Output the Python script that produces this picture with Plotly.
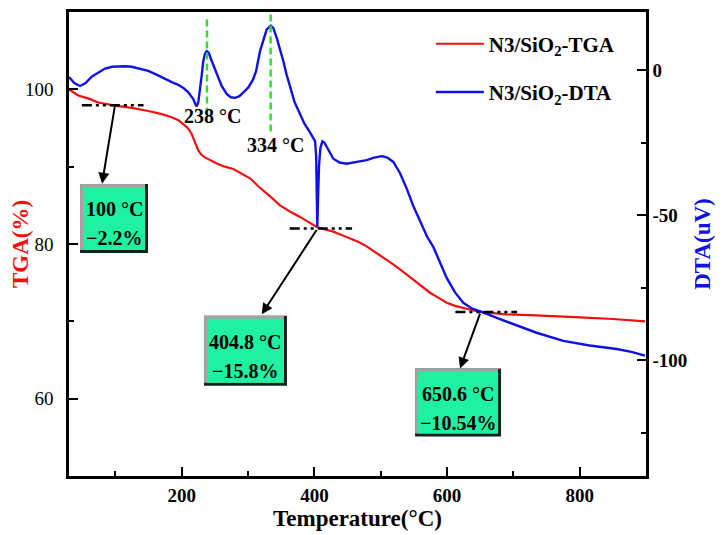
import plotly.graph_objects as go

# ---------------- data ----------------
tga_temp = [30, 44, 60, 74.2, 99.4, 125, 149.6, 170, 184.9, 195, 204.9, 210, 215, 220, 225,
            230, 235, 252.7, 265, 277.7, 295, 303, 315, 328, 338, 348.2, 363, 378.3, 391,
            403.5, 415, 428.5, 440, 453.7, 466, 478.8, 491, 504, 520, 540, 557, 574.3, 588,
            599.5, 612, 624.5, 640, 652.3, 690, 725, 760, 800.5, 850, 898.5]
tga_val = [100.0, 99.2, 98.8, 98.3, 97.9, 97.6, 97.2, 96.8, 96.4, 96.0, 95.3, 94.9, 94.2, 93.2, 92.1,
           91.5, 91.2, 90.4, 90.0, 89.7, 88.9, 88.5, 87.5, 86.6, 85.8, 85.0, 84.2, 83.5, 82.8,
           82.2, 81.9, 81.6, 81.2, 80.7, 80.3, 79.7, 79.0, 78.2, 77.3, 76.0, 74.9, 73.7, 73.0,
           72.4, 72.0, 71.7, 71.4, 71.2, 70.9, 70.8, 70.7, 70.5, 70.3, 70.0]

dta_temp = [30, 38, 46.6, 55, 64.2, 75, 84.3, 95, 103.9, 115, 124.5, 137, 149.6, 162, 174.8, 185,
            194.8, 203, 209.9, 214, 217.4, 220.5, 222.6, 225, 227.5, 230, 232.5, 235, 237.6,
            240.5, 245.2, 252, 260.2, 268, 274, 280.3, 287, 294, 300.4, 307, 312, 318, 323,
            328, 334.1, 338, 343.2, 348, 353.1, 358, 363.2, 370, 378.3, 385, 393.4, 398.4,
            401, 402.7, 403.6, 404.4, 405.5, 407, 409, 412, 415, 420, 428.5, 438, 448.7,
            463.8, 478.9, 490, 501.5, 510, 519, 529, 539.2, 549, 559.3, 570, 579.3, 590,
            599.5, 612, 624.5, 638, 652.3, 675, 699.9, 735, 775.3, 815, 855.8, 878, 898.5]
dta_val = [-2.4, -4.5, -5.5, -4.5, -2.3, -0.7, 0.5, 1.1, 1.3, 1.3, 1.1, 0.5, -0.3, -1.6, -3.2, -4.2,
           -5.1, -6.3, -7.7, -8.8, -10.0, -11.8, -12.5, -11.0, -7.2, -2.0, 3.1, 5.6, 6.5,
           6.0, 3.1, -1.0, -5.5, -8.3, -9.4, -9.6, -9.0, -7.5, -6.0, -3.5, -0.5, 6.5, 10.5,
           13.9, 15.3, 14.5, 11.1, 7.5, 3.1, -1.5, -6.0, -11.0, -15.2, -18.5, -21.5, -23.2,
           -24.5, -30.0, -45.0, -54.0, -44.0, -33.0, -27.0, -24.6, -25.0, -27.2, -30.6, -31.9, -32.3,
           -31.7, -31.1, -30.2, -29.7, -30.2, -31.7, -35.5, -40.9, -46.8, -52.3, -57.5, -61.0, -66.5,
           -71.7, -76.7, -80.3, -82.3, -83.4, -85.5, -87.7, -90.6, -93.4, -95.0, -96.2, -97.2, -98.5]

x_ticks = [200, 400, 600, 800]
tga_ticks = [60, 80, 100]
dta_ticks = [0, -50, -100]
dta_ticktext = ["0", "-50", "-100"]

onset_temp = [99.4, 404.8, 650.6]
onset_tga = [97.95, 82.0, 71.2]
onset_labels = [["100 °C", "−2.2%"], ["404.8 °C", "−15.8%"], ["650.6 °C", "−10.54%"]]

peak_temp = [238, 334]
peak_labels = ["238 °C", "334 °C"]

FONT = "Liberation Serif"
RED = "#f01010"
BLUE = "#1010e8"

fig = go.Figure()
fig.add_trace(go.Scatter(x=tga_temp, y=tga_val, mode="lines", name="N3/SiO<sub>2</sub>-TGA",
                         line=dict(color=RED, width=2.2), legendgroup="a"))
fig.add_trace(go.Scatter(x=dta_temp, y=dta_val, mode="lines", name="N3/SiO<sub>2</sub>-DTA",
                         line=dict(color=BLUE, width=2.4), yaxis="y2", legendgroup="b"))

shapes = []
annotations = []

# dash-dot onset lines, arrows and labelled boxes
line_span = [(-50, 43), (-42, 52), (-38, 55)]
arrow_heads = [(79.8, 87.8), (320.6, 70.9), (619.6, 63.9)]
box_centers = [(97.9, 83.3), (296.1, 66.2), (616.6, 59.5)]
box_sizes = [(68, 69), (83, 70), (86, 68)]
for i in range(3):
    t0, g0 = onset_temp[i], onset_tga[i]
    shapes.append(dict(type="line", xref="x", yref="y", x0=t0 + line_span[i][0], x1=t0 + line_span[i][1],
                       y0=g0, y1=g0, line=dict(color="black", width=2.5, dash="10px,4px,3px,4px,3px,4px")))
    hx, hy = arrow_heads[i]
    annotations.append(dict(x=hx, y=hy, xref="x", yref="y", ax=t0, ay=g0, axref="x", ayref="y",
                            text="", showarrow=True, arrowhead=2, arrowsize=1.1, arrowwidth=2,
                            arrowcolor="black", standoff=0, startstandoff=0))
    cx, cy = box_centers[i]
    w, h = box_sizes[i]
    common = dict(xref="x", yref="y", xsizemode="pixel", ysizemode="pixel", xanchor=cx, yanchor=cy,
                  layer="above", line=dict(width=0))
    shapes.append(dict(type="rect", x0=-w / 2, x1=w / 2, y0=-h / 2, y1=h / 2, fillcolor="#13231c", **common))
    shapes.append(dict(type="rect", x0=-w / 2, x1=w / 2 - 3, y0=-h / 2 + 3, y1=h / 2, fillcolor="#a3a3a3", **common))
    shapes.append(dict(type="rect", x0=-w / 2 + 3, x1=w / 2 - 3, y0=-h / 2 + 3, y1=h / 2 - 3, fillcolor="#1ef2a2", **common))
    for j, txt in enumerate(onset_labels[i]):
        annotations.append(dict(x=cx, y=cy, xref="x", yref="y", text=txt, showarrow=False,
                                yshift=(9 if j == 0 else -20), xanchor="center", yanchor="middle",
                                font=dict(family=FONT, size=20, color="black", weight="bold")))

# green dashed peak lines + labels
peak_line_span = [(17.4, -15.2), (19.1, -21.5)]
peak_label_pos = [(247.1, -15.8), (340.6, -25.8)]
for i in range(2):
    shapes.append(dict(type="line", xref="x", yref="y2", x0=peak_temp[i], x1=peak_temp[i],
                       y0=peak_line_span[i][0], y1=peak_line_span[i][1],
                       line=dict(color="#2ee02e", width=2.5, dash="7px,4px")))
    annotations.append(dict(x=peak_label_pos[i][0], y=peak_label_pos[i][1], xref="x", yref="y2",
                            text=peak_labels[i], showarrow=False,
                            font=dict(family=FONT, size=20, color="black", weight="bold")))

axis_common = dict(showline=True, linecolor="black", linewidth=2.5, ticks="inside", ticklen=9,
                   tickwidth=2, tickcolor="black", showgrid=False, zeroline=False)

# the page body adds an 8 px margin; the figure is sized so the plot area lands where it should
fig.update_layout(
    width=719, height=527,
    margin=dict(l=61, r=81, t=1, b=59),
    plot_bgcolor="white", paper_bgcolor="white",
    font=dict(family=FONT, color="black"),
    shapes=shapes, annotations=annotations,
    legend=dict(x=0.627, y=0.975, xanchor="left", yanchor="top", bgcolor="rgba(0,0,0,0)",
                font=dict(family=FONT, size=21, color="black", weight="bold"),
                traceorder="grouped", tracegroupgap=18, itemwidth=48),
    xaxis=dict(range=[30, 900], tickvals=x_ticks, mirror=True,
               minor=dict(tickvals=[100, 300, 500, 700], ticklen=5, tickwidth=2, ticks="inside", tickcolor="black"),
               tickfont=dict(family=FONT, size=19, weight="bold"),
               title=dict(text="Temperature(°C)", font=dict(family=FONT, size=23, weight="bold"), standoff=2),
               **axis_common),
    yaxis=dict(range=[50, 110], tickvals=tga_ticks, ticklabelstandoff=9,
               minor=dict(tickvals=[70, 90], ticklen=5, tickwidth=2, ticks="inside", tickcolor="black"),
               tickfont=dict(family=FONT, size=19),
               title=dict(text="TGA(%)", font=dict(family=FONT, size=23, color=RED, weight="bold"), standoff=0),
               **axis_common),
    yaxis2=dict(range=[-140, 20], tickvals=dta_ticks, ticktext=dta_ticktext, overlaying="y", side="right",
                minor=dict(tickvals=[-25, -75, -125], ticklen=5, tickwidth=2, ticks="inside", tickcolor="black"),
                tickfont=dict(family=FONT, size=19, weight="bold"),
                title=dict(text="DTA(uV)", font=dict(family=FONT, size=23, color=BLUE, weight="bold"), standoff=8),
                **axis_common),
)

fig.write_html("out.html")
